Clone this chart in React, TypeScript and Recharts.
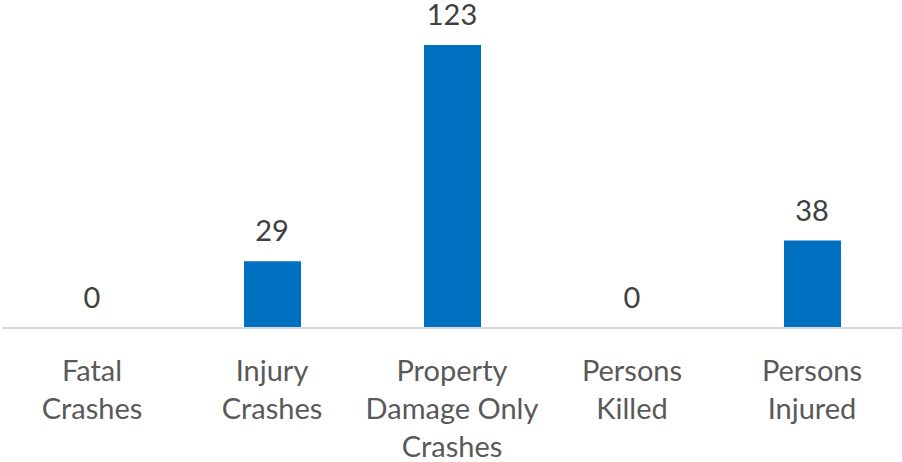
import { Bar, ComposedChart, LabelList, Line, XAxis, YAxis } from 'recharts';

const categories = ['Fatal\nCrashes', 'Injury\nCrashes', 'Property\nDamage Only\nCrashes', 'Persons\nKilled', 'Persons\nInjured'];
const counts = [0, 29, 123, 0, 38];

const data = categories.map((name, i) => ({ name, value: counts[i] }));

const FONT = 'Lato, "Open Sans", sans-serif';

const CategoryTick = ({ x, y, payload }: any) => {
  const lines = String(payload.value).split('\n');
  return (
    <text x={x} y={y} textAnchor="middle" fill="#595959" fontSize={29} fontFamily={FONT}>
      {lines.map((line, i) => (
        <tspan key={i} x={x} dy={i === 0 ? 53 : 38}>
          {line}
        </tspan>
      ))}
    </text>
  );
};

export default function App() {
  return (
    <div style={{ width: 902, height: 462 }}>
      <style>{'body { margin: 0; }'}</style>
      <ComposedChart width={902} height={462} data={data} margin={{ top: 6, right: 0, left: 2, bottom: 0 }}>
        <XAxis
          dataKey="name"
          height={134}
          tick={<CategoryTick />}
          tickLine={false}
          tickSize={0}
          tickMargin={0}
          axisLine={{ stroke: '#d9d9d9', strokeWidth: 2 }}
          interval={0}
        />
        <YAxis hide domain={[0, 140]} />
        <Bar dataKey="value" fill="#0070c0" barSize={57} isAnimationActive={false} />
        {/* invisible line only carries the value labels, so zeros get one too */}
        <Line dataKey="value" stroke="none" dot={false} activeDot={false} isAnimationActive={false}>
          <LabelList
            dataKey="value"
            position="top"
            offset={20}
            fill="#404040"
            fontSize={29}
            fontFamily={FONT}
          />
        </Line>
      </ComposedChart>
    </div>
  );
}
